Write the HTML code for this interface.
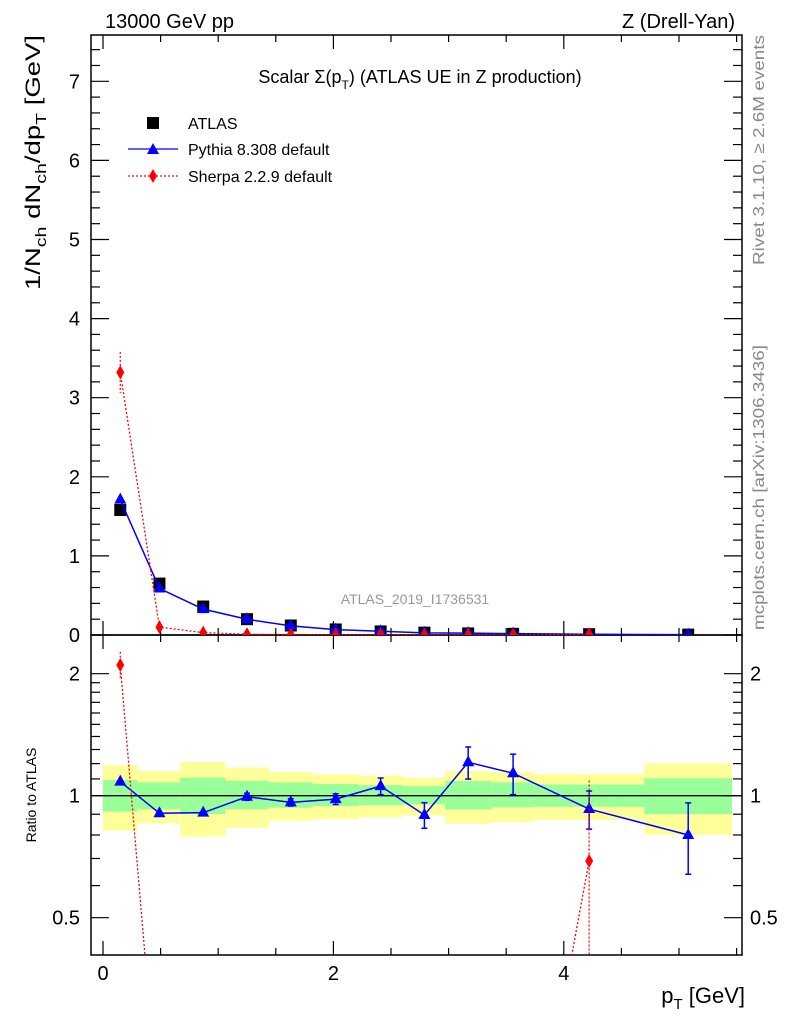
<!DOCTYPE html>
<html><head><meta charset="utf-8"><style>
html,body{margin:0;background:#fff;width:786px;height:1024px;overflow:hidden;}
svg{display:block;font-family:"Liberation Sans",sans-serif;}
</style></head><body>
<svg id="c" width="786" height="1024" viewBox="0 0 786 1024">
<defs>
<clipPath id="cm"><rect x="91" y="35" width="651" height="600"/></clipPath>
<clipPath id="cr"><rect x="91" y="635" width="651" height="320"/></clipPath>
</defs>
<g id="bands" clip-path="url(#cr)"></g>
<g id="axes"></g>
<g id="marks"></g>
<g id="texts">
<text x="105" y="28" font-size="20">13000 GeV pp</text>
<text x="735" y="28" font-size="20" text-anchor="end">Z (Drell-Yan)</text>
<text x="420" y="83" font-size="18" text-anchor="middle">Scalar Σ(p<tspan font-size="12" dy="6">T</tspan><tspan dy="-6">) (ATLAS UE in Z production)</tspan></text>
<text x="415" y="604" font-size="14" fill="#999" text-anchor="middle">ATLAS_2019_I1736531</text>
<text transform="translate(764,265) rotate(-90)" font-size="16" fill="#888" textLength="230" lengthAdjust="spacingAndGlyphs">Rivet 3.1.10, ≥ 2.6M events</text>
<text transform="translate(764,630) rotate(-90)" font-size="16" fill="#888" textLength="285" lengthAdjust="spacingAndGlyphs">mcplots.cern.ch [arXiv:1306.3436]</text>
<text transform="translate(40,290) rotate(-90)" font-size="21" textLength="255" lengthAdjust="spacingAndGlyphs">1/N<tspan font-size="15" dy="6">ch</tspan><tspan dy="-6"> dN</tspan><tspan font-size="15" dy="6">ch</tspan><tspan dy="-6">/dp</tspan><tspan font-size="15" dy="6">T</tspan><tspan dy="-6"> [GeV]</tspan></text>
<text transform="translate(36,795) rotate(-90)" font-size="14" text-anchor="middle">Ratio to ATLAS</text>
<text x="745" y="1003" font-size="22" text-anchor="end">p<tspan font-size="15" dy="6">T</tspan><tspan dy="-6"> [GeV]</tspan></text>
<g>
<rect x="147" y="117" width="12" height="12" fill="#000"/>
<text x="188" y="129" font-size="16">ATLAS</text>
<line x1="128" y1="149" x2="178" y2="149" stroke="#00f" stroke-width="1.3"/>
<path d="M153,143 L159,154 L147,154 Z" fill="#00f"/>
<text x="188" y="155" font-size="16">Pythia 8.308 default</text>
<line x1="128" y1="176" x2="178" y2="176" stroke="#f00" stroke-width="1.3" stroke-dasharray="2,2"/>
<path d="M153,169 L157,176 L153,183 L149,176 Z" fill="#f00"/>
<text x="188" y="182" font-size="16">Sherpa 2.2.9 default</text>
</g>
</g>
</svg>
<script>
const binLo=[0,0.3,0.67,1.06,1.44,1.82,2.22,2.6,2.97,3.37,3.74,4.7];
const binHi=[0.3,0.67,1.06,1.44,1.82,2.22,2.6,2.97,3.37,3.74,4.7,5.46];
const xVals=[0.15,0.49,0.87,1.25,1.63,2.02,2.41,2.79,3.17,3.56,4.22,5.08];
const atlasVals=[1.58,0.65,0.36,0.2,0.12,0.07,0.045,0.03,0.02,0.015,0.01,0.005];
const pythiaRatio=[1.083,0.905,0.908,0.994,0.963,0.981,1.056,0.896,1.209,1.136,0.927,0.8];
const pythiaRatioErr=[0,0,0,0.02,0.02,0.03,0.05,0.065,0.11,0.13,0.1,0.16];
const sherpaVals=[3.32,0.10,0.03,0.01,0.006,0.004,0.003,0.002,0.0012,0.001,0.0069];
const sherpaErr=[0.26,0.01,0.005,0.003,0.002,0.001,0.001,0.001,0.001,0.001,0.004];
const yellowHi=[1.19,1.15,1.211,1.175,1.144,1.13,1.122,1.108,1.15,1.144,1.131,1.202];
const yellowLo=[0.82,0.855,0.792,0.834,0.868,0.874,0.884,0.894,0.853,0.86,0.871,0.8];
const greenHi=[1.093,1.079,1.108,1.089,1.079,1.068,1.062,1.056,1.087,1.079,1.066,1.104];
const greenLo=[0.913,0.925,0.901,0.925,0.934,0.943,0.947,0.952,0.925,0.936,0.939,0.901];
const mainTicks=[0,1,2,3,4,5,6,7];
const ratioTickLabels=["0.5","1","2"];
const xTickLabels=["0","2","4"];

const NS="http://www.w3.org/2000/svg";
const XR=742;
const RMIN=0.403, RMAX=2.48;
const X=v=>103+v*115.2;
const Y=v=>635-v*79.1;
const R=v=>795.7-Math.log2(v)*122;
const Rc=v=>R(Math.min(Math.max(v,RMIN),RMAX));
function mk(tag,attrs,parent){const e=document.createElementNS(NS,tag);for(const k in attrs)e.setAttribute(k,attrs[k]);document.getElementById(parent).appendChild(e);return e;}
for(let i=0;i<binLo.length;i++){
 let e=mk('rect',{x:X(binLo[i]),y:R(yellowHi[i]),width:X(binHi[i])-X(binLo[i]),height:R(yellowLo[i])-R(yellowHi[i]),fill:'#ffff99'},'bands');
 
 
 e=mk('rect',{x:X(binLo[i]),y:R(greenHi[i]),width:X(binHi[i])-X(binLo[i]),height:R(greenLo[i])-R(greenHi[i]),fill:'#99ff99'},'bands');
 
 
}
let l=mk('line',{x1:91,x2:XR,y1:R(1),y2:R(1),stroke:'#000','stroke-width':1.3},'bands');


for(const [y,h,n] of [[35,600,'main-frame'],[635,320,'ratio-frame']]){
 const e=mk('rect',{x:91,y:y,width:XR-91,height:h,fill:'none',stroke:'#000','stroke-width':1.5},'axes');
 
 
}
for(let v=0;v<=5.5;v+=0.5){
 const maj=Math.abs(v%2)<1e-6, len=maj?14:7;
 for(const [yb,dir] of [[635,-1],[35,1],[955,-1],[635,1]]){
  mk('line',{x1:X(v),x2:X(v),y1:yb,y2:yb+dir*len,stroke:'#000','stroke-width':1.2},'axes');
 }
}
xTickLabels.forEach(t=>{const e=mk('text',{x:X(+t),y:980,'font-size':20,'text-anchor':'middle'},'axes');e.textContent=t;
 
 });
for(let v=0;v<=7.6;v+=0.2){
 const maj=Math.abs(v-Math.round(v))<1e-6,len=maj?18:9;
 mk('line',{x1:91,x2:91+len,y1:Y(v),y2:Y(v),stroke:'#000','stroke-width':1.2},'axes');
 mk('line',{x1:XR,x2:XR-len,y1:Y(v),y2:Y(v),stroke:'#000','stroke-width':1.2},'axes');
}
mainTicks.forEach(t=>{const e=mk('text',{x:80,y:Y(t)+7,'font-size':20,'text-anchor':'end'},'axes');e.textContent=t;
 
 });
[0.5,0.6,0.7,0.8,0.9,1,1.1,1.2,1.3,1.4,1.5,1.6,1.7,1.8,1.9,2].forEach(v=>{
 const maj=(v===0.5||v===1||v===2),len=maj?18:9;
 mk('line',{x1:91,x2:91+len,y1:R(v),y2:R(v),stroke:'#000','stroke-width':1.2},'axes');
 mk('line',{x1:XR,x2:XR-len,y1:R(v),y2:R(v),stroke:'#000','stroke-width':1.2},'axes');
});
ratioTickLabels.forEach(t=>{
 let e=mk('text',{x:80,y:R(+t)+7,'font-size':20,'text-anchor':'end'},'axes');e.textContent=t;
 
 
 e=mk('text',{x:750,y:R(+t)+7,'font-size':20},'axes');e.textContent=t;
 
 
});
const gm=mk('g',{'clip-path':'url(#cm)'},'marks');gm.id='gm';
const gr=mk('g',{'clip-path':'url(#cr)'},'marks');gr.id='gr';
function tri(x,y,p){return mk('path',{d:`M${x},${y-7} L${x+6},${y+4} L${x-6},${y+4} Z`,fill:'#00f'},p);}
function dia(x,y,p){return mk('path',{d:`M${x},${y-7} L${x+4},${y} L${x},${y+7} L${x-4},${y} Z`,fill:'#f00'},p);}
atlasVals.forEach((v,i)=>{const e=mk('rect',{x:X(xVals[i])-6,y:Y(v)-6,width:12,height:12,fill:'#000'},'gm');
 
 });
const pv=atlasVals.map((v,i)=>v*pythiaRatio[i]);
let e=mk('polyline',{points:pv.map((v,i)=>X(xVals[i])+','+Y(v)).join(' '),fill:'none',stroke:'#00f','stroke-width':1.5},'gm');


pv.forEach((v,i)=>{const t=tri(X(xVals[i]),Y(v),'gm');
 
 });
e=mk('polyline',{points:sherpaVals.map((v,i)=>X(xVals[i])+','+Y(v)).join(' '),fill:'none',stroke:'#f00','stroke-width':1.3,'stroke-dasharray':'2,2'},'gm');


sherpaVals.forEach((v,i)=>{
 mk('line',{x1:X(xVals[i]),x2:X(xVals[i]),y1:Y(v+sherpaErr[i]),y2:Y(v-sherpaErr[i]),stroke:'#f00','stroke-width':1.2,'stroke-dasharray':'2,2'},'gm');
 const d=dia(X(xVals[i]),Y(v),'gm');
 
 });
e=mk('polyline',{points:pythiaRatio.map((v,i)=>X(xVals[i])+','+R(v)).join(' '),fill:'none',stroke:'#00f','stroke-width':1.5},'gr');


pythiaRatio.forEach((v,i)=>{
 const er=pythiaRatioErr[i];
 if(er>0){const x=X(xVals[i]);
  mk('line',{x1:x,x2:x,y1:Rc(v+er),y2:Rc(v-er),stroke:'#00f','stroke-width':1.5},'gr');
  mk('line',{x1:x-3,x2:x+3,y1:R(v+er),y2:R(v+er),stroke:'#00f','stroke-width':1.5},'gr');
  if(v-er>RMIN) mk('line',{x1:x-3,x2:x+3,y1:R(v-er),y2:R(v-er),stroke:'#00f','stroke-width':1.5},'gr');}
 const t=tri(X(xVals[i]),R(v),'gr');
 
 
});
const sr=sherpaVals.map((v,i)=>v/atlasVals[i]);
const srErr=sherpaErr.map((v,i)=>v/atlasVals[i]);
// draw sherpa ratio segments clipped in log space to the visible range
for(let i=0;i+1<sr.length;i++){
 let x0=xVals[i],y0=Math.log(sr[i]),x1=xVals[i+1],y1=Math.log(sr[i+1]);
 const lo=Math.log(RMIN),hi=Math.log(RMAX);
 if((y0<lo&&y1<lo)||(y0>hi&&y1>hi)) continue;
 const clip=(xa,ya,xb,yb)=>{ if(ya<lo){const t=(lo-ya)/(yb-ya);return [xa+t*(xb-xa),lo];} if(ya>hi){const t=(hi-ya)/(yb-ya);return [xa+t*(xb-xa),hi];} return [xa,ya]; };
 const a=clip(x0,y0,x1,y1), b=clip(x1,y1,x0,y0);
 const s=mk('line',{x1:X(a[0]),y1:R(Math.exp(a[1])),x2:X(b[0]),y2:R(Math.exp(b[1])),stroke:'#f00','stroke-width':1.3,'stroke-dasharray':'2,2'},'gr');
 
 
}
sr.forEach((v,i)=>{
 if(v+srErr[i]<RMIN) return;
 mk('line',{x1:X(xVals[i]),x2:X(xVals[i]),y1:Rc(v+srErr[i]),y2:Rc(v-srErr[i]),stroke:'#f00','stroke-width':1.2,'stroke-dasharray':'2,2'},'gr');
 if(v<RMIN||v>RMAX) return;
 const d=dia(X(xVals[i]),R(v),'gr');
 
 
});
</script>
</body></html>
